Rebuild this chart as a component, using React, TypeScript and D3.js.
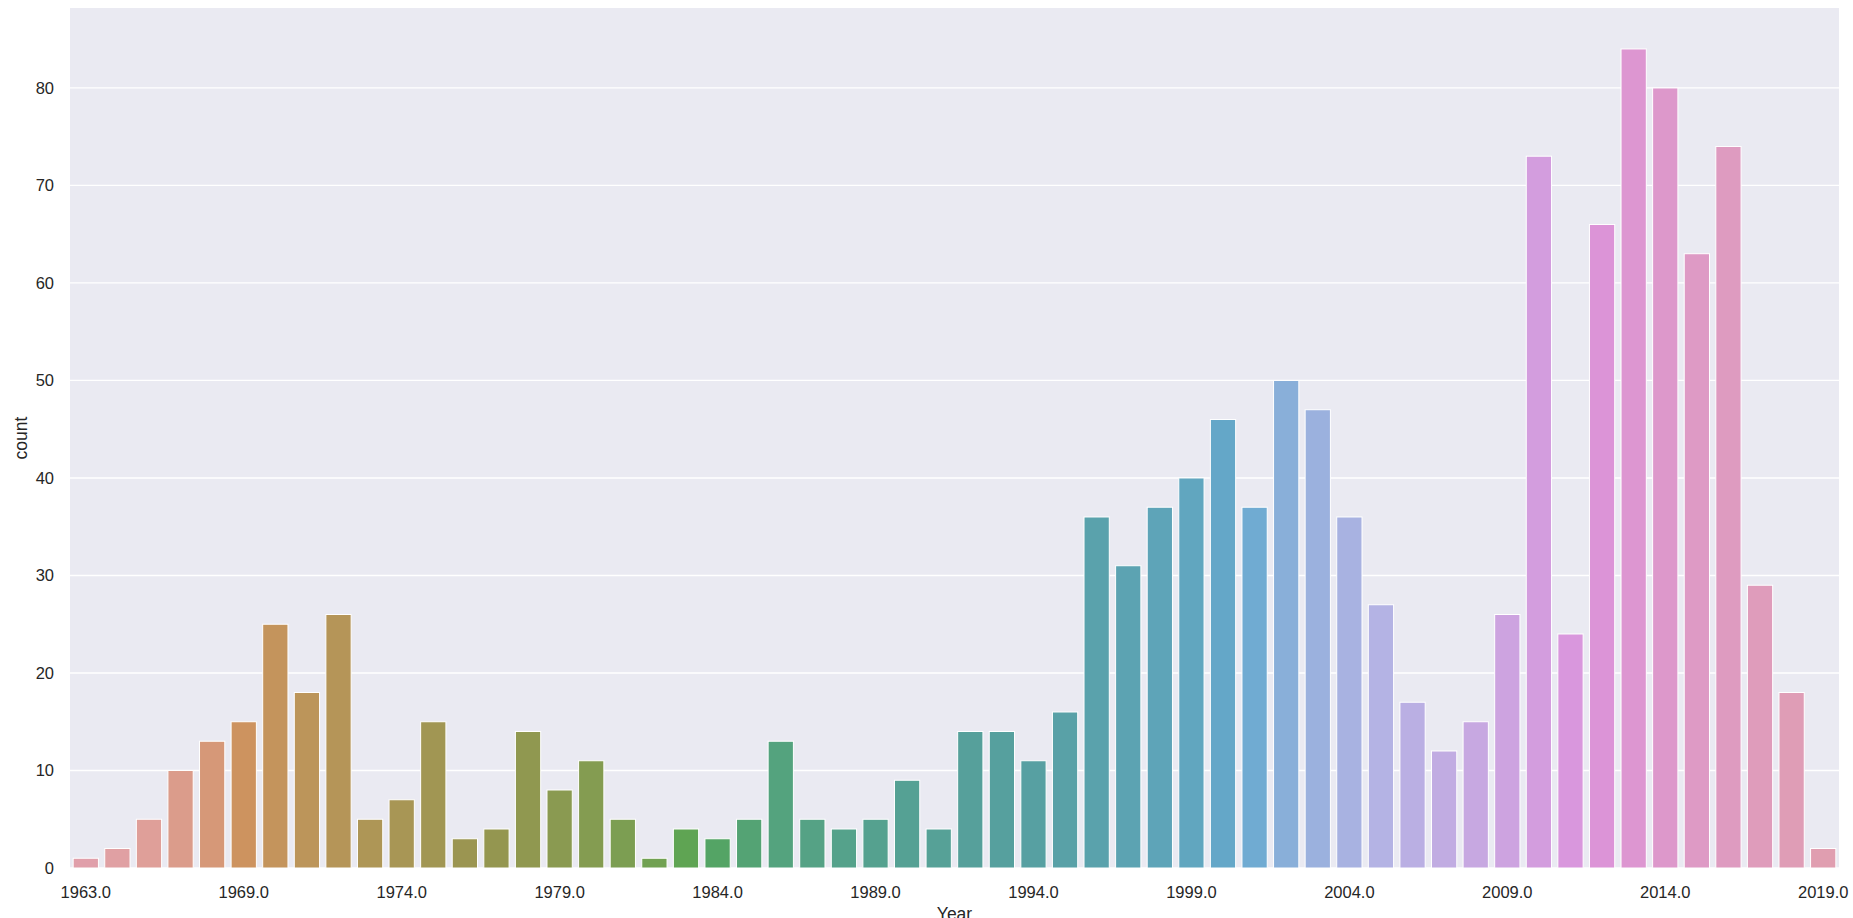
import React from "react";
import * as d3 from "d3";

const years: number[] = [
  1963, 1965, 1966, 1967, 1968,
  1969, 1970, 1971, 1972, 1973, 1974, 1975, 1976, 1977, 1978, 1979, 1980,
  1981, 1982, 1983, 1984, 1985, 1986, 1987, 1988, 1989, 1990, 1991, 1992,
  1993, 1994, 1995, 1996, 1997, 1998, 1999, 2000, 2001, 2002, 2003, 2004,
  2005, 2006, 2007, 2008, 2009, 2010, 2011, 2012, 2013, 2014, 2015, 2016,
  2017, 2018, 2019,
];

const counts: number[] = [
  1, 2, 5, 10, 13, 15, 25, 18, 26, 5, 7, 15, 3, 4, 14, 8, 11, 5, 1, 4, 3, 5,
  13, 5, 4, 5, 9, 4, 14, 14, 11, 16, 36, 31, 37, 40, 46, 37, 50, 47, 36, 27,
  17, 12, 15, 26, 73, 24, 66, 84, 80, 63, 74, 29, 18, 2,
];

const yTicks: number[] = [0, 10, 20, 30, 40, 50, 60, 70, 80];
const xTickEvery = 5;

// --- HUSL (as used by seaborn) ---
const M = [
  [3.240454162114103, -1.537138512797715, -0.49853140955601],
  [-0.969266030505187, 1.876010845446694, 0.04155601753035],
  [0.055643430959114, -0.204025913516754, 1.057225188223179],
];
const refU = 0.19783000664283;
const refV = 0.46831999493879;
const kappa = 903.2962962;
const epsilon = 0.0088564516;

function maxChroma(L: number, H: number) {
  const hrad = (H * Math.PI) / 180;
  const sinH = Math.sin(hrad);
  const cosH = Math.cos(hrad);
  const sub1 = Math.pow(L + 16, 3) / 1560896.0;
  const sub2 = sub1 > epsilon ? sub1 : L / kappa;
  let result = Infinity;
  for (const row of M) {
    const [m1, m2, m3] = row;
    const top = (0.99915 * m1 + 1.05122 * m2 + 1.1446 * m3) * sub2;
    const rbottom = 0.8633 * m3 - 0.17266 * m2;
    const lbottom = 0.12949 * m3 - 0.38848 * m1;
    const bottom = (rbottom * sinH + lbottom * cosH) * sub2;
    for (const t of [0, 1]) {
      const C = (L * (top - 1.05122 * t)) / (bottom + 0.17266 * sinH * t);
      if (C > 0 && C < result) result = C;
    }
  }
  return result;
}
function fInv(t: number) {
  return Math.pow(t, 3) > epsilon ? Math.pow(t, 3) : (116 * t - 16) / kappa;
}
function fromLinear(c: number) {
  return c <= 0.0031308 ? 12.92 * c : 1.055 * Math.pow(c, 1 / 2.4) - 0.055;
}
function huslToRgb(H: number, S: number, L: number): [number, number, number] {
  const C = (maxChroma(L, H) / 100) * S;
  const hrad = (H * Math.PI) / 180;
  const U = Math.cos(hrad) * C;
  const V = Math.sin(hrad) * C;
  const Y = fInv((L + 16) / 116);
  const varU = U / (13 * L) + refU;
  const varV = V / (13 * L) + refV;
  const X = 0 - (9 * Y * varU) / ((varU - 4) * varV - varU * varV);
  const Z = (9 * Y - 15 * varV * Y - varV * X) / (3 * varV);
  const xyz = [X, Y, Z];
  return M.map((row) => {
    const v = fromLinear(row[0] * xyz[0] + row[1] * xyz[1] + row[2] * xyz[2]);
    return Math.min(1, Math.max(0, v));
  }) as [number, number, number];
}
function huslPalette(n: number, h = 0.01, s = 0.9, l = 0.7, desat = 0.58) {
  const out: string[] = [];
  for (let i = 0; i < n; i++) {
    let hue = i / n + h;
    hue = hue % 1;
    hue *= 359;
    const [r, g, b] = huslToRgb(hue, s * 99, l * 99);
    const c = d3.hsl(d3.rgb(r * 255, g * 255, b * 255));
    c.s *= desat;
    out.push(c.formatHex());
  }
  return out;
}

const W = 1853;
const H = 918;
const left = 70;
const right = 1839;
const top = 8;
const bottom = 868;
const FONT = "'Liberation Sans', Arial, sans-serif";

export default function App() {
  const x = d3
    .scaleBand<number>()
    .domain(d3.range(years.length))
    .range([left, right])
    .paddingInner(0.2)
    .paddingOuter(0.1);
  const yMax = d3.max(counts)! * 1.05;
  const y = d3.scaleLinear().domain([0, yMax]).range([bottom, top]);
  const colors = huslPalette(years.length);
  const xTickIdx = d3.range(0, years.length, xTickEvery);

  return (
    <svg
      width={W}
      height={H}
      style={{ position: "absolute", left: 0, top: 0, background: "#fff" }}
      fontFamily={FONT}
    >
      <rect x={left} y={top} width={right - left} height={bottom - top} fill="#EAEAF2" />
      {yTicks.map((t) => (
        <line key={t} x1={left} x2={right} y1={y(t)} y2={y(t)} stroke="#fff" strokeWidth={1.3} />
      ))}
      {counts.map((c, i) => (
        <rect
          key={i}
          x={x(i)!}
          y={y(c)}
          width={x.bandwidth()}
          height={y(0) - y(c)}
          fill={colors[i]}
          stroke="#fff"
          strokeWidth={1}
        />
      ))}
      {yTicks.map((t) => (
        <text
          key={t}
          x={54}
          y={y(t)}
          textAnchor="end"
          dominantBaseline="central"
          fontSize={16.5}
          fill="#262626"
        >
          {t}
        </text>
      ))}
      {xTickIdx.map((i) => (
        <text
          key={i}
          x={x(i)! + x.bandwidth() / 2}
          y={898}
          textAnchor="middle"
          fontSize={16.5}
          fill="#262626"
        >
          {years[i].toFixed(1)}
        </text>
      ))}
      <text
        x={(left + right) / 2}
        y={920}
        textAnchor="middle"
        fontSize={17.5}
        fill="#262626"
      >
        Year
      </text>
      <text
        transform={`translate(27, ${(top + bottom) / 2}) rotate(-90)`}
        textAnchor="middle"
        fontSize={17.5}
        fill="#262626"
      >
        count
      </text>
    </svg>
  );
}
